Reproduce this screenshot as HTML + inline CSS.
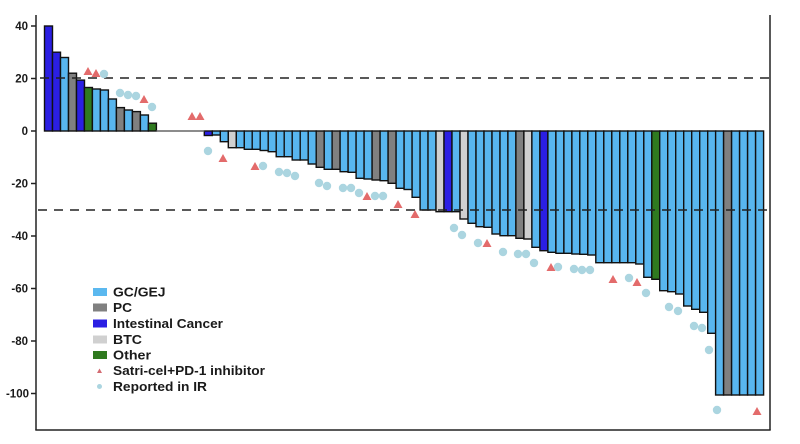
<!DOCTYPE html>
<html>
<head>
<meta charset="utf-8">
<style>
html,body{margin:0;padding:0;background:#fff;}
svg{display:block;}
text{font-family:"Liberation Sans",Arial,sans-serif;fill:#1a1a1a;}
</style>
</head>
<body>
<svg width="800" height="444" viewBox="0 0 800 444" xmlns="http://www.w3.org/2000/svg">
<rect width="800" height="444" fill="#fff"/>
<!-- bars -->
<g stroke="#111" stroke-width="1.4">
<rect x="44.5" y="26" width="8" height="105" fill="#2b1fe3"/>
<rect x="52.5" y="52.2" width="8" height="78.8" fill="#2b1fe3"/>
<rect x="60.5" y="57.5" width="8" height="73.5" fill="#58b6ef"/>
<rect x="68.5" y="73.2" width="8" height="57.8" fill="#808080"/>
<rect x="76.5" y="80.1" width="8" height="50.9" fill="#2b1fe3"/>
<rect x="84.4" y="87.5" width="8" height="43.5" fill="#2f7a1f"/>
<rect x="92.4" y="89" width="8" height="42" fill="#58b6ef"/>
<rect x="100.4" y="90" width="8" height="41" fill="#58b6ef"/>
<rect x="108.4" y="99" width="8" height="32" fill="#58b6ef"/>
<rect x="116.4" y="107.6" width="8" height="23.4" fill="#808080"/>
<rect x="124.4" y="110" width="8" height="21" fill="#58b6ef"/>
<rect x="132.4" y="111.6" width="8" height="19.4" fill="#808080"/>
<rect x="140.4" y="115" width="8" height="16" fill="#58b6ef"/>
<rect x="148.4" y="123.2" width="8" height="7.8" fill="#2f7a1f"/>

<rect x="204.3" y="131" width="8" height="4.5" fill="#2b1fe3"/>
<rect x="212.3" y="131" width="8" height="4" fill="#58b6ef"/>
<rect x="220.3" y="131" width="8" height="10.7" fill="#58b6ef"/>
<rect x="228.3" y="131" width="8" height="16.7" fill="#d0d0d0"/>
<rect x="236.3" y="131" width="8" height="16.7" fill="#58b6ef"/>
<rect x="244.3" y="131" width="8" height="18.3" fill="#58b6ef"/>
<rect x="252.2" y="131" width="8" height="18.3" fill="#58b6ef"/>
<rect x="260.2" y="131" width="8" height="19.5" fill="#58b6ef"/>
<rect x="268.2" y="131" width="8" height="20.7" fill="#58b6ef"/>
<rect x="276.2" y="131" width="8" height="25.7" fill="#58b6ef"/>
<rect x="284.2" y="131" width="8" height="25.7" fill="#58b6ef"/>
<rect x="292.2" y="131" width="8" height="29" fill="#58b6ef"/>
<rect x="300.2" y="131" width="8" height="29" fill="#58b6ef"/>
<rect x="308.2" y="131" width="8" height="33" fill="#58b6ef"/>
<rect x="316.2" y="131" width="8" height="36.3" fill="#808080"/>
<rect x="324.2" y="131" width="8" height="38.3" fill="#58b6ef"/>
<rect x="332.1" y="131" width="8" height="38.3" fill="#808080"/>
<rect x="340.1" y="131" width="8" height="40.7" fill="#58b6ef"/>
<rect x="348.1" y="131" width="8" height="41.3" fill="#58b6ef"/>
<rect x="356.1" y="131" width="8" height="47.3" fill="#58b6ef"/>
<rect x="364.1" y="131" width="8" height="48" fill="#58b6ef"/>
<rect x="372.1" y="131" width="8" height="49" fill="#808080"/>
<rect x="380.1" y="131" width="8" height="49.7" fill="#58b6ef"/>
<rect x="388.1" y="131" width="8" height="52.3" fill="#808080"/>
<rect x="396.1" y="131" width="8" height="57.3" fill="#58b6ef"/>
<rect x="404.1" y="131" width="8" height="58.5" fill="#58b6ef"/>
<rect x="412.1" y="131" width="8" height="66.3" fill="#58b6ef"/>
<rect x="420.1" y="131" width="8" height="79" fill="#58b6ef"/>
<rect x="428" y="131" width="8" height="79" fill="#58b6ef"/>
<rect x="436" y="131" width="8" height="80.7" fill="#d0d0d0"/>
<rect x="444" y="131" width="8" height="80.7" fill="#2b1fe3"/>
<rect x="452" y="131" width="8" height="80.7" fill="#58b6ef"/>
<rect x="460" y="131" width="8" height="88" fill="#d0d0d0"/>
<rect x="468" y="131" width="8" height="92.3" fill="#58b6ef"/>
<rect x="476" y="131" width="8" height="95.7" fill="#58b6ef"/>
<rect x="484" y="131" width="8" height="96.3" fill="#58b6ef"/>
<rect x="492" y="131" width="8" height="103" fill="#58b6ef"/>
<rect x="500" y="131" width="8" height="104.7" fill="#58b6ef"/>
<rect x="507.9" y="131" width="8" height="104.7" fill="#58b6ef"/>
<rect x="515.9" y="131" width="8" height="107.3" fill="#808080"/>
<rect x="523.9" y="131" width="8" height="108" fill="#d0d0d0"/>
<rect x="531.9" y="131" width="8" height="116.3" fill="#58b6ef"/>
<rect x="539.9" y="131" width="8" height="119.7" fill="#2b1fe3"/>
<rect x="547.9" y="131" width="8" height="121.3" fill="#58b6ef"/>
<rect x="555.9" y="131" width="8" height="122.3" fill="#58b6ef"/>
<rect x="563.9" y="131" width="8" height="122.3" fill="#58b6ef"/>
<rect x="571.9" y="131" width="8" height="123" fill="#58b6ef"/>
<rect x="579.8" y="131" width="8" height="123.3" fill="#58b6ef"/>
<rect x="587.8" y="131" width="8" height="124" fill="#58b6ef"/>
<rect x="595.8" y="131" width="8" height="131.7" fill="#58b6ef"/>
<rect x="603.8" y="131" width="8" height="131.7" fill="#58b6ef"/>
<rect x="611.8" y="131" width="8" height="131.7" fill="#58b6ef"/>
<rect x="619.8" y="131" width="8" height="131.7" fill="#58b6ef"/>
<rect x="627.8" y="131" width="8" height="131.7" fill="#58b6ef"/>
<rect x="635.8" y="131" width="8" height="133" fill="#58b6ef"/>
<rect x="643.8" y="131" width="8" height="146.3" fill="#58b6ef"/>
<rect x="651.8" y="131" width="8" height="148.3" fill="#2f7a1f"/>
<rect x="659.7" y="131" width="8" height="159.7" fill="#58b6ef"/>
<rect x="667.7" y="131" width="8" height="160.7" fill="#58b6ef"/>
<rect x="675.7" y="131" width="8" height="163" fill="#58b6ef"/>
<rect x="683.7" y="131" width="8" height="175" fill="#58b6ef"/>
<rect x="691.7" y="131" width="8" height="178.3" fill="#58b6ef"/>
<rect x="699.7" y="131" width="8" height="181.3" fill="#58b6ef"/>
<rect x="707.7" y="131" width="8" height="202.3" fill="#58b6ef"/>
<rect x="715.6" y="131" width="8" height="264" fill="#58b6ef"/>
<rect x="723.6" y="131" width="8" height="264" fill="#808080"/>
<rect x="731.6" y="131" width="8" height="264" fill="#58b6ef"/>
<rect x="739.6" y="131" width="8" height="264" fill="#58b6ef"/>
<rect x="747.6" y="131" width="8" height="264" fill="#58b6ef"/>
<rect x="755.6" y="131" width="8" height="264" fill="#58b6ef"/>
</g>
<!-- zero-height bars -->
<line x1="156.4" y1="131" x2="204.3" y2="131" stroke="#666" stroke-width="1.6"/>

<!-- dashed reference lines -->
<line x1="40" y1="78" x2="770" y2="78" stroke="#222" stroke-width="1.5" stroke-dasharray="9 7"/>
<line x1="38" y1="210" x2="770" y2="210" stroke="#222" stroke-width="1.5" stroke-dasharray="9 7"/>

<!-- circles -->
<g fill="#abd5e0">
<circle cx="104" cy="74" r="4.2"/>
<circle cx="120" cy="93" r="4.2"/>
<circle cx="128" cy="95" r="4.2"/>
<circle cx="136" cy="96" r="4.2"/>
<circle cx="152" cy="107" r="4.2"/>
<circle cx="208" cy="151" r="4.2"/>
<circle cx="263" cy="166" r="4.2"/>
<circle cx="279" cy="172" r="4.2"/>
<circle cx="287" cy="173" r="4.2"/>
<circle cx="295" cy="176" r="4.2"/>
<circle cx="319" cy="183" r="4.2"/>
<circle cx="327" cy="186" r="4.2"/>
<circle cx="343" cy="188" r="4.2"/>
<circle cx="351" cy="188" r="4.2"/>
<circle cx="359" cy="193" r="4.2"/>
<circle cx="375" cy="196" r="4.2"/>
<circle cx="383" cy="196" r="4.2"/>
<circle cx="454" cy="228" r="4.2"/>
<circle cx="462" cy="235" r="4.2"/>
<circle cx="478" cy="243" r="4.2"/>
<circle cx="503" cy="252" r="4.2"/>
<circle cx="518" cy="254" r="4.2"/>
<circle cx="526" cy="254" r="4.2"/>
<circle cx="534" cy="263" r="4.2"/>
<circle cx="558" cy="267" r="4.2"/>
<circle cx="574" cy="269" r="4.2"/>
<circle cx="582" cy="270" r="4.2"/>
<circle cx="590" cy="270" r="4.2"/>
<circle cx="629" cy="278" r="4.2"/>
<circle cx="646" cy="293" r="4.2"/>
<circle cx="669" cy="307" r="4.2"/>
<circle cx="678" cy="311" r="4.2"/>
<circle cx="694" cy="326" r="4.2"/>
<circle cx="702" cy="328" r="4.2"/>
<circle cx="709" cy="350" r="4.2"/>
<circle cx="717" cy="410" r="4.2"/>
</g>
<!-- triangles -->
<g fill="#e36b6b">
<polygon points="83.5,75 92.5,75 88,67"/>
<polygon points="91.5,77 100.5,77 96,69"/>
<polygon points="139.5,103 148.5,103 144,95"/>
<polygon points="187.5,120 196.5,120 192,112"/>
<polygon points="195.5,120 204.5,120 200,112"/>
<polygon points="218.5,162 227.5,162 223,154"/>
<polygon points="250.5,170 259.5,170 255,162"/>
<polygon points="362.5,200 371.5,200 367,192"/>
<polygon points="393.5,208 402.5,208 398,200"/>
<polygon points="410.5,218 419.5,218 415,210"/>
<polygon points="482.5,247 491.5,247 487,239"/>
<polygon points="546.5,271 555.5,271 551,263"/>
<polygon points="608.5,283 617.5,283 613,275"/>
<polygon points="632.5,286 641.5,286 637,278"/>
<polygon points="752.5,415 761.5,415 757,407"/>
</g>

<!-- axes -->
<g stroke="#222" stroke-width="1.5" fill="none">
<line x1="36" y1="15" x2="36" y2="430"/>
<line x1="35.3" y1="430" x2="770.7" y2="430"/>
<line x1="770" y1="15" x2="770" y2="430"/>
<line x1="31" y1="26" x2="36" y2="26"/>
<line x1="31" y1="78.5" x2="36" y2="78.5"/>
<line x1="31" y1="131" x2="36" y2="131"/>
<line x1="31" y1="183.5" x2="36" y2="183.5"/>
<line x1="31" y1="236" x2="36" y2="236"/>
<line x1="31" y1="288.5" x2="36" y2="288.5"/>
<line x1="31" y1="341" x2="36" y2="341"/>
<line x1="31" y1="393.5" x2="36" y2="393.5"/>
</g>
<g font-size="11.5" font-weight="bold" text-anchor="end">
<text x="28" y="30">40</text>
<text x="28" y="82.5">20</text>
<text x="28" y="135">0</text>
<text x="28" y="187.5">-20</text>
<text x="28" y="240">-40</text>
<text x="28" y="292.5">-60</text>
<text x="28" y="345">-80</text>
<text x="29" y="397.5">-100</text>
</g>

<!-- legend -->
<rect x="93" y="288" width="14" height="8" fill="#5bb8ef"/>
<rect x="93" y="303.5" width="14" height="8" fill="#808080"/>
<rect x="93" y="319.5" width="14" height="8" fill="#2b1fe3"/>
<rect x="93" y="335.5" width="14" height="8" fill="#d0d0d0"/>
<rect x="93" y="351" width="14" height="8" fill="#2f7a1f"/>
<polygon points="97,373 102,373 99.5,368.5" fill="#d36b72"/>
<circle cx="99.5" cy="386.5" r="2.5" fill="#abd5e0"/>
<g font-size="13" font-weight="bold">
<text x="113" y="296.5" textLength="52.5" lengthAdjust="spacingAndGlyphs">GC/GEJ</text>
<text x="113" y="312" textLength="19" lengthAdjust="spacingAndGlyphs">PC</text>
<text x="113" y="328" textLength="110" lengthAdjust="spacingAndGlyphs">Intestinal Cancer</text>
<text x="113" y="344" textLength="29" lengthAdjust="spacingAndGlyphs">BTC</text>
<text x="113" y="359.5" textLength="38" lengthAdjust="spacingAndGlyphs">Other</text>
<text x="113" y="375" textLength="152" lengthAdjust="spacingAndGlyphs">Satri-cel+PD-1 inhibitor</text>
<text x="113" y="391" textLength="94" lengthAdjust="spacingAndGlyphs">Reported in IR</text>
</g>
</svg>
</body>
</html>
